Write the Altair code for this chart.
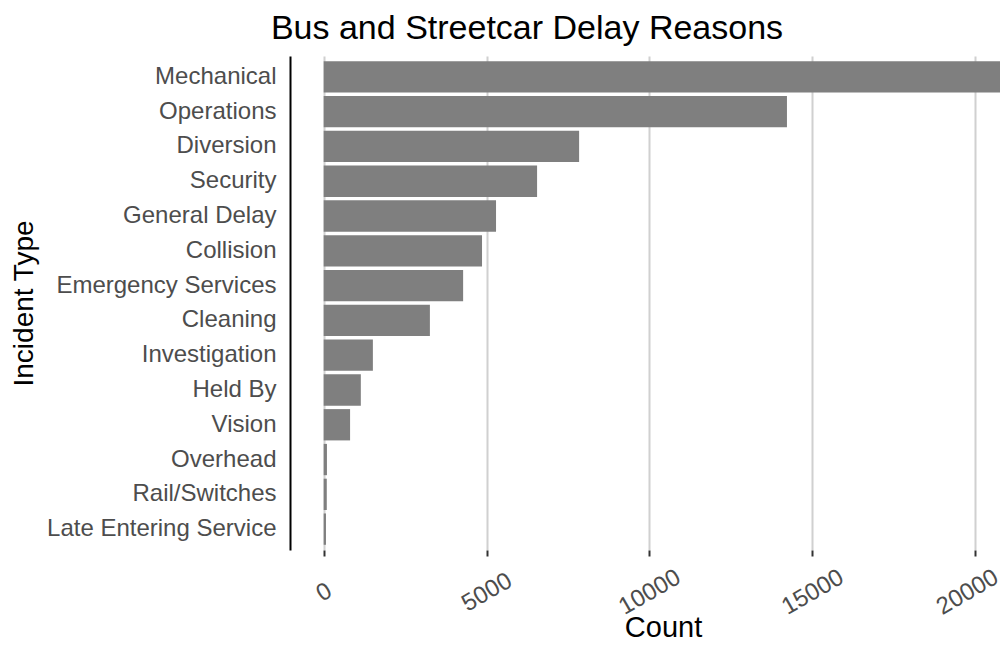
import altair as alt
import pandas as pd

categories = ["Mechanical", "Operations", "Diversion", "Security", "General Delay",
              "Collision", "Emergency Services", "Cleaning", "Investigation",
              "Held By", "Vision", "Overhead", "Rail/Switches", "Late Entering Service"]
counts = [21900, 14220, 7840, 6550, 5290, 4860, 4280, 3260, 1510, 1140, 810, 100, 95, 70]
x_ticks = [0, 5000, 10000, 15000, 20000]

df = pd.DataFrame({"type": categories, "count": counts})

FONT = "Liberation Sans"

chart = alt.Chart(df).mark_bar(color="#7f7f7f", clip=True).encode(
    x=alt.X(
        "count:Q",
        scale=alt.Scale(domain=[-1034, 20759], nice=False, zero=False),
        axis=alt.Axis(
            values=x_ticks, format="d", title="Count",
            labelAngle=330, labelAlign="center", labelBaseline="middle",
            labelPadding=36, labelFontSize=24, labelColor="#4d4d4d", labelFont=FONT,
            labelOffset={"condition": {"test": "datum.value == 20000", "value": -8}, "value": 0},
            domain=False, ticks=True, tickColor="#333333", tickWidth=2, tickSize=6,
            grid=True, gridColor="#d0d0d0", gridWidth=2,
            titleFontSize=29, titleFont=FONT, titleFontWeight="normal", titleColor="#000000",
            titleX=373, titleY=86, titleAlign="center", titleBaseline="alphabetic",
        ),
    ),
    y=alt.Y(
        "type:N", sort=categories,
        scale=alt.Scale(paddingInner=0.1, paddingOuter=0.15),
        axis=alt.Axis(
            title="Incident Type", domain=True, domainColor="#000000", domainWidth=2,
            ticks=False, grid=False, labelPadding=14, labelFontSize=24,
            labelColor="#4d4d4d", labelFont=FONT, labelLimit=400,
            titleFontSize=28, titleFont=FONT, titleFontWeight="normal", titleColor="#000000",
            titleAngle=270, titleX=-258, titleY=247, titleAlign="center",
            titleBaseline="alphabetic",
        ),
    ),
).properties(
    width=710,
    height=494,
    background="#ffffff",
    title=alt.TitleParams(
        text="Bus and Streetcar Delay Reasons", fontSize=34, font=FONT,
        fontWeight="normal", color="#000000", anchor="middle", dx=-118,
        offset=10,
    ),
    padding={"left": 282, "top": 48, "right": 0, "bottom": 91},
    autosize=alt.AutoSizeParams(type="none"),
).configure_view(stroke=None, strokeWidth=0)

chart.save("out.html", embed_options={"renderer": "svg", "actions": False})
